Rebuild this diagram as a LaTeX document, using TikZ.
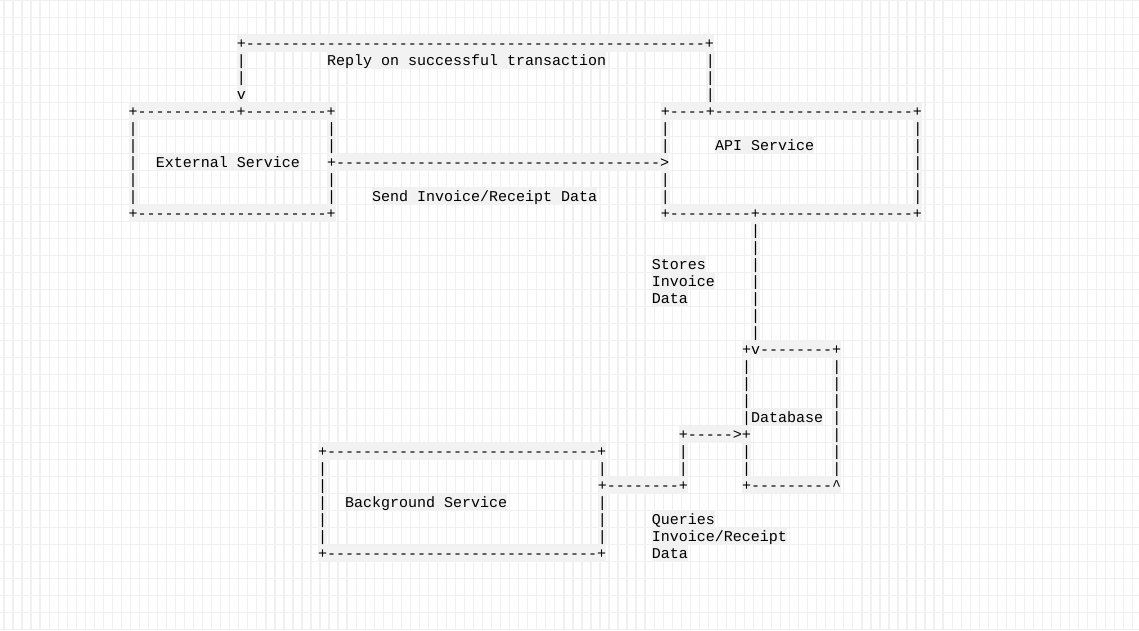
\documentclass[tikz,border=0pt]{standalone}
\usepackage{fontspec}
\setmonofont{Liberation Mono}
\newcommand\dashrun[1]{\foreach \i in {1,...,#1}{-}}
\tikzset{
  run/.style={anchor=base west, inner sep=0pt, fill=black!5,
    text height=13.5pt, text depth=3.5pt,
    font=\fontsize{15}{17}\selectfont\ttfamily},
  gridline/.style={black!6, line width=1.3pt}
}
\begin{document}
\begin{tikzpicture}[x=9.02pt, y=-17pt]
    \useasboundingbox (0pt,0pt) rectangle (1139pt,-630pt);
    \fill[white] (0pt,0pt) rectangle (1139pt,-630pt);
    \foreach \k in {0,...,126}
        \draw[gridline] ({4pt+\k*9.03pt},0pt) -- ++(0pt,-630pt);
    \foreach \k in {0,...,37}
        \draw[gridline] (0pt,{-0.5pt-\k*17pt}) -- ++(1139pt,0pt);
    \begin{scope}[shift={(128.5pt,-48pt)}]
        % reply path
        \node[run] (replyTop) at (12,0) {+\dashrun{51}+};
        \node[run] (replyLabel) at (22,1) {Reply on successful transaction};
        \foreach \r in {1,2}
            \node[run] (replyL\r) at (12,\r) {|};
        \node[run] (replyTip) at (12,3) {v};
        \foreach \r in {1,2,3}
            \node[run] (replyR\r) at (64,\r) {|};
        % external service
        \node[run] (extTop) at (0,4) {+\dashrun{11}+\dashrun{9}+};
        \foreach \r in {5,...,9}
            \node[run] (extL\r) at (0,\r) {|};
        \foreach \r in {5,6,8,9}
            \node[run] (extR\r) at (22,\r) {|};
        \node[run] (extLabel) at (3,7) {External Service};
        \node[run] (extBottom) at (0,10) {+\dashrun{21}+};
        % send arrow
        \node[run] (sendArrow) at (22,7) {+\dashrun{36}>};
        \node[run] (sendLabel) at (27,9) {Send Invoice/Receipt Data};
        % api service
        \node[run] (apiTop) at (59,4) {+\dashrun{4}+\dashrun{22}+};
        \foreach \r in {5,6,8,9}
            \node[run] (apiL\r) at (59,\r) {|};
        \foreach \r in {5,...,9}
            \node[run] (apiR\r) at (87,\r) {|};
        \node[run] (apiLabel) at (65,6) {API Service};
        \node[run] (apiBottom) at (59,10) {+\dashrun{9}+\dashrun{17}+};
        % store path
        \foreach \r in {11,...,17}
            \node[run] (store\r) at (69,\r) {|};
        \node[run] (storeA) at (58,13) {Stores};
        \node[run] (storeB) at (58,14) {Invoice};
        \node[run] (storeC) at (58,15) {Data};
        % database
        \node[run] (dbTop) at (68,18) {+v\dashrun{8}+};
        \foreach \r in {19,20,21,24,25}
            \node[run] (dbL\r) at (68,\r) {|};
        \foreach \r in {19,...,25}
            \node[run] (dbR\r) at (78,\r) {|};
        \node[run] (dbLabel) at (68,22) {|Database};
        \node[run] (dbBottom) at (68,26) {+\dashrun{9}\textasciicircum};
        % query path
        \node[run] (queryTop) at (61,23) {+\dashrun{5}>+};
        \foreach \r in {24,25}
            \node[run] (query\r) at (61,\r) {|};
        \node[run] (queryLow) at (52,26) {+\dashrun{8}+};
        \node[run] (queryA) at (58,28) {Queries};
        \node[run] (queryB) at (58,29) {Invoice/Receipt};
        \node[run] (queryC) at (58,30) {Data};
        % background service
        \node[run] (bgTop) at (21,24) {+\dashrun{30}+};
        \foreach \r in {25,...,29}
            \node[run] (bgL\r) at (21,\r) {|};
        \foreach \r in {25,27,28,29}
            \node[run] (bgR\r) at (52,\r) {|};
        \node[run] (bgLabel) at (24,27) {Background Service};
        \node[run] (bgBottom) at (21,30) {+\dashrun{30}+};
    \end{scope}
\end{tikzpicture}
\end{document}
